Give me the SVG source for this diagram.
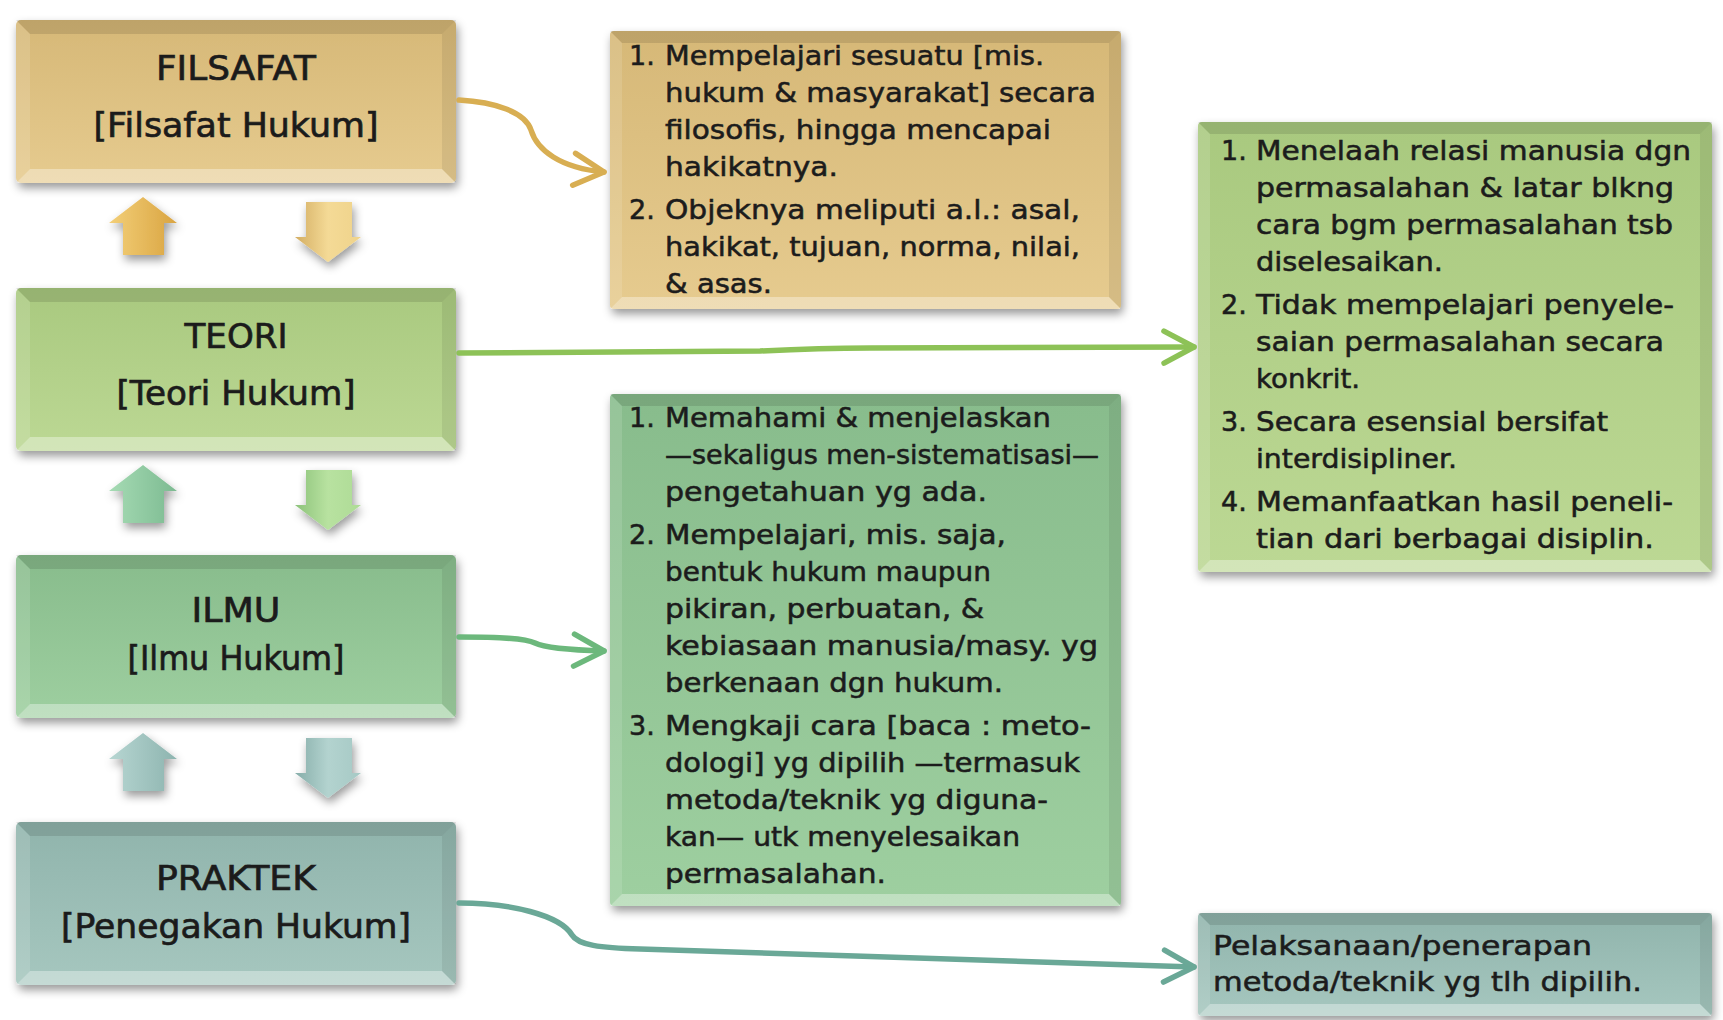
<svg xmlns="http://www.w3.org/2000/svg" xmlns:xlink="http://www.w3.org/1999/xlink" width="1723" height="1020" viewBox="0 0 1723 1020">
<style>
.t{font-family:"DejaVu Sans","Liberation Sans",sans-serif;font-size:34px;fill:#1b1b1b;stroke:#1b1b1b;stroke-width:0.7px;text-anchor:middle}
.d{font-family:"DejaVu Sans","Liberation Sans",sans-serif;font-size:27px;fill:#1c1c1c;stroke:#1c1c1c;stroke-width:0.55px}
.bt{fill:#000;fill-opacity:.11}
.bb{fill:#fff;fill-opacity:.35}
.bl{fill:#fff;fill-opacity:.12}
.br{fill:#000;fill-opacity:.07}
.con{fill:none;stroke-width:5.5;stroke-linecap:round;stroke-linejoin:round}
.chev{fill:none;stroke-width:5.5;stroke-linecap:round;stroke-linejoin:round}
</style>
<defs>
<filter id="sh" x="-10%" y="-10%" width="125%" height="130%">
<feDropShadow dx="2" dy="5" stdDeviation="5" flood-color="#000" flood-opacity="0.4"/>
</filter>
<linearGradient id="gGold" x1="0" y1="0" x2="0" y2="1"><stop offset="0" stop-color="#d6b877"/><stop offset="1" stop-color="#e6cb8f"/></linearGradient>
<linearGradient id="gTeori" x1="0" y1="0" x2="0" y2="1"><stop offset="0" stop-color="#a9c97f"/><stop offset="1" stop-color="#bcd894"/></linearGradient>
<linearGradient id="gIlmu" x1="0" y1="0" x2="0" y2="1"><stop offset="0" stop-color="#88bc8c"/><stop offset="1" stop-color="#9ecfa0"/></linearGradient>
<linearGradient id="gPrak" x1="0" y1="0" x2="0" y2="1"><stop offset="0" stop-color="#90b4ac"/><stop offset="1" stop-color="#a6c7bf"/></linearGradient>
<linearGradient id="gUp1" x1="0" y1="0" x2="1" y2="0"><stop offset="0" stop-color="#f3cf78"/><stop offset="1" stop-color="#d9a441"/></linearGradient>
<linearGradient id="gDn1" x1="0" y1="0" x2="1" y2="0"><stop offset="0" stop-color="#d3ad62"/><stop offset="0.5" stop-color="#f4da96"/><stop offset="1" stop-color="#efd38b"/></linearGradient>
<linearGradient id="gUp2" x1="0" y1="0" x2="1" y2="0"><stop offset="0" stop-color="#a6dbb4"/><stop offset="1" stop-color="#7cba91"/></linearGradient>
<linearGradient id="gDn2" x1="0" y1="0" x2="1" y2="0"><stop offset="0" stop-color="#8cc27a"/><stop offset="0.5" stop-color="#b8e2a0"/><stop offset="1" stop-color="#aedb96"/></linearGradient>
<linearGradient id="gUp3" x1="0" y1="0" x2="1" y2="0"><stop offset="0" stop-color="#b7d6d2"/><stop offset="1" stop-color="#8db4af"/></linearGradient>
<linearGradient id="gDn3" x1="0" y1="0" x2="1" y2="0"><stop offset="0" stop-color="#86ada9"/><stop offset="0.5" stop-color="#b3d3cf"/><stop offset="1" stop-color="#a6c9c5"/></linearGradient>
<g id="bevL">
<polygon class="bt" points="0,0 440,0 426,14 14,14"/>
<polygon class="bb" points="0,163 440,163 426,149 14,149"/>
<polygon class="bl" points="0,0 14,14 14,149 0,163"/>
<polygon class="br" points="440,0 426,14 426,149 440,163"/>
</g>
<path id="upA" d="M143,197 L177,223 L164,223 L164,255 L123,255 L123,223 L109,223 Z"/>
<path id="dnA" d="M306,202 L352,202 L352,237 L361,237 L328,262 L295,237 L306,237 Z"/>
<marker id="mkGold" markerUnits="userSpaceOnUse" markerWidth="46" markerHeight="46" viewBox="0 0 46 46" refX="38" refY="23" orient="auto"><path class="chev" stroke="#d8ae52" d="M8,7 L38,23 L8,39"/></marker>
<marker id="mkTeori" markerUnits="userSpaceOnUse" markerWidth="46" markerHeight="46" viewBox="0 0 46 46" refX="38" refY="23" orient="auto"><path class="chev" stroke="#8dc257" d="M8,7 L38,23 L8,39"/></marker>
<marker id="mkIlmu" markerUnits="userSpaceOnUse" markerWidth="46" markerHeight="46" viewBox="0 0 46 46" refX="38" refY="23" orient="auto"><path class="chev" stroke="#6cb87c" d="M8,7 L38,23 L8,39"/></marker>
<marker id="mkPrak" markerUnits="userSpaceOnUse" markerWidth="46" markerHeight="46" viewBox="0 0 46 46" refX="38" refY="23" orient="auto"><path class="chev" stroke="#6aa897" d="M8,7 L38,23 L8,39"/></marker>
</defs>
<rect width="1723" height="1020" fill="#ffffff"/>

<g id="filsafat">
<rect x="16" y="20" width="440" height="163" rx="5" fill="url(#gGold)" filter="url(#sh)"/>
<use href="#bevL" x="16" y="20"/>
<text class="t" x="236" y="80" textLength="160" lengthAdjust="spacingAndGlyphs">FILSAFAT</text>
<text class="t" x="236" y="137" textLength="285" lengthAdjust="spacingAndGlyphs">[Filsafat Hukum]</text>
</g>
<g id="teori">
<rect x="16" y="288" width="440" height="163" rx="5" fill="url(#gTeori)" filter="url(#sh)"/>
<use href="#bevL" x="16" y="288"/>
<text class="t" x="236" y="348" textLength="103" lengthAdjust="spacingAndGlyphs">TEORI</text>
<text class="t" x="236" y="405" textLength="239" lengthAdjust="spacingAndGlyphs">[Teori Hukum]</text>
</g>
<g id="ilmu">
<rect x="16" y="555" width="440" height="163" rx="5" fill="url(#gIlmu)" filter="url(#sh)"/>
<use href="#bevL" x="16" y="555"/>
<text class="t" x="236" y="622" textLength="89" lengthAdjust="spacingAndGlyphs">ILMU</text>
<text class="t" x="236" y="670" textLength="217" lengthAdjust="spacingAndGlyphs">[Ilmu Hukum]</text>
</g>
<g id="praktek">
<rect x="16" y="822" width="440" height="163" rx="5" fill="url(#gPrak)" filter="url(#sh)"/>
<use href="#bevL" x="16" y="822"/>
<text class="t" x="236" y="890" textLength="160" lengthAdjust="spacingAndGlyphs">PRAKTEK</text>
<text class="t" x="236" y="938" textLength="350" lengthAdjust="spacingAndGlyphs">[Penegakan Hukum]</text>
</g>

<g id="arrows-filsafat-teori" filter="url(#sh)">
<use href="#upA" fill="url(#gUp1)"/>
<use href="#dnA" fill="url(#gDn1)"/>
</g>
<g id="arrows-teori-ilmu" filter="url(#sh)">
<use href="#upA" y="268" fill="url(#gUp2)"/>
<use href="#dnA" y="268" fill="url(#gDn2)"/>
</g>
<g id="arrows-ilmu-praktek" filter="url(#sh)">
<use href="#upA" y="536" fill="url(#gUp3)"/>
<use href="#dnA" y="536" fill="url(#gDn3)"/>
</g>

<g id="desc-filsafat">
<rect x="610" y="31" width="511" height="278" rx="4" fill="url(#gGold)" filter="url(#sh)"/>
<polygon class="bt" points="610,31 1121,31 1109,43 622,43"/>
<polygon class="bb" points="610,309 1121,309 1109,297 622,297"/>
<polygon class="bl" points="610,31 622,43 622,297 610,309"/>
<polygon class="br" points="1121,31 1109,43 1109,297 1121,309"/>
<text class="d" x="629" y="65">1.</text>
<text class="d" x="665" y="65" textLength="379" lengthAdjust="spacingAndGlyphs">Mempelajari sesuatu [mis.</text>
<text class="d" x="665" y="102" textLength="431" lengthAdjust="spacingAndGlyphs">hukum &amp; masyarakat] secara</text>
<text class="d" x="665" y="139" textLength="386" lengthAdjust="spacingAndGlyphs">filosofis, hingga mencapai</text>
<text class="d" x="665" y="176" textLength="173" lengthAdjust="spacingAndGlyphs">hakikatnya.</text>
<text class="d" x="629" y="219">2.</text>
<text class="d" x="665" y="219" textLength="415" lengthAdjust="spacingAndGlyphs">Objeknya meliputi a.l.: asal,</text>
<text class="d" x="665" y="256" textLength="415" lengthAdjust="spacingAndGlyphs">hakikat, tujuan, norma, nilai,</text>
<text class="d" x="665" y="293" textLength="107" lengthAdjust="spacingAndGlyphs">&amp; asas.</text>
</g>

<g id="desc-teori">
<rect x="1198" y="122" width="514" height="450" rx="4" fill="url(#gTeori)" filter="url(#sh)"/>
<polygon class="bt" points="1198,122 1712,122 1700,134 1210,134"/>
<polygon class="bb" points="1198,572 1712,572 1700,560 1210,560"/>
<polygon class="bl" points="1198,122 1210,134 1210,560 1198,572"/>
<polygon class="br" points="1712,122 1700,134 1700,560 1712,572"/>
<text class="d" x="1221" y="160">1.</text>
<text class="d" x="1256" y="160" textLength="435" lengthAdjust="spacingAndGlyphs">Menelaah relasi manusia dgn</text>
<text class="d" x="1256" y="197" textLength="418" lengthAdjust="spacingAndGlyphs">permasalahan &amp; latar blkng</text>
<text class="d" x="1256" y="234" textLength="417" lengthAdjust="spacingAndGlyphs">cara bgm permasalahan tsb</text>
<text class="d" x="1256" y="271" textLength="187" lengthAdjust="spacingAndGlyphs">diselesaikan.</text>
<text class="d" x="1221" y="314">2.</text>
<text class="d" x="1256" y="314" textLength="418" lengthAdjust="spacingAndGlyphs">Tidak mempelajari penyele-</text>
<text class="d" x="1256" y="351" textLength="408" lengthAdjust="spacingAndGlyphs">saian permasalahan secara</text>
<text class="d" x="1256" y="388" textLength="104" lengthAdjust="spacingAndGlyphs">konkrit.</text>
<text class="d" x="1221" y="431">3.</text>
<text class="d" x="1256" y="431" textLength="352" lengthAdjust="spacingAndGlyphs">Secara esensial bersifat</text>
<text class="d" x="1256" y="468" textLength="201" lengthAdjust="spacingAndGlyphs">interdisipliner.</text>
<text class="d" x="1221" y="511">4.</text>
<text class="d" x="1256" y="511" textLength="417" lengthAdjust="spacingAndGlyphs">Memanfaatkan hasil peneli-</text>
<text class="d" x="1256" y="548" textLength="398" lengthAdjust="spacingAndGlyphs">tian dari berbagai disiplin.</text>
</g>

<g id="desc-ilmu">
<rect x="610" y="394" width="511" height="512" rx="4" fill="url(#gIlmu)" filter="url(#sh)"/>
<polygon class="bt" points="610,394 1121,394 1109,406 622,406"/>
<polygon class="bb" points="610,906 1121,906 1109,894 622,894"/>
<polygon class="bl" points="610,394 622,406 622,894 610,906"/>
<polygon class="br" points="1121,394 1109,406 1109,894 1121,906"/>
<text class="d" x="629" y="427">1.</text>
<text class="d" x="665" y="427" textLength="386" lengthAdjust="spacingAndGlyphs">Memahami &amp; menjelaskan</text>
<text class="d" x="665" y="464" textLength="434" lengthAdjust="spacingAndGlyphs">—sekaligus men-sistematisasi—</text>
<text class="d" x="665" y="501" textLength="322" lengthAdjust="spacingAndGlyphs">pengetahuan yg ada.</text>
<text class="d" x="629" y="544">2.</text>
<text class="d" x="665" y="544" textLength="341" lengthAdjust="spacingAndGlyphs">Mempelajari, mis. saja,</text>
<text class="d" x="665" y="581" textLength="326" lengthAdjust="spacingAndGlyphs">bentuk hukum maupun</text>
<text class="d" x="665" y="618" textLength="319" lengthAdjust="spacingAndGlyphs">pikiran, perbuatan, &amp;</text>
<text class="d" x="665" y="655" textLength="433" lengthAdjust="spacingAndGlyphs">kebiasaan manusia/masy. yg</text>
<text class="d" x="665" y="692" textLength="338" lengthAdjust="spacingAndGlyphs">berkenaan dgn hukum.</text>
<text class="d" x="629" y="735">3.</text>
<text class="d" x="665" y="735" textLength="426" lengthAdjust="spacingAndGlyphs">Mengkaji cara [baca : meto-</text>
<text class="d" x="665" y="772" textLength="415" lengthAdjust="spacingAndGlyphs">dologi] yg dipilih —termasuk</text>
<text class="d" x="665" y="809" textLength="383" lengthAdjust="spacingAndGlyphs">metoda/teknik yg diguna-</text>
<text class="d" x="665" y="846" textLength="355" lengthAdjust="spacingAndGlyphs">kan— utk menyelesaikan</text>
<text class="d" x="665" y="883" textLength="221" lengthAdjust="spacingAndGlyphs">permasalahan.</text>
</g>

<g id="desc-praktek">
<rect x="1198" y="913" width="514" height="103" rx="4" fill="url(#gPrak)" filter="url(#sh)"/>
<polygon class="bt" points="1198,913 1712,913 1700,925 1210,925"/>
<polygon class="bb" points="1198,1016 1712,1016 1700,1004 1210,1004"/>
<polygon class="bl" points="1198,913 1210,925 1210,1004 1198,1016"/>
<polygon class="br" points="1712,913 1700,925 1700,1004 1712,1016"/>
<text class="d" x="1213" y="955" textLength="379" lengthAdjust="spacingAndGlyphs">Pelaksanaan/penerapan</text>
<text class="d" x="1213" y="991" textLength="429" lengthAdjust="spacingAndGlyphs">metoda/teknik yg tlh dipilih.</text>
</g>

<g id="connectors">
<path class="con" stroke="#d8ae52" marker-end="url(#mkGold)" d="M459,100 C495,102 525,112 531,130 C537,150 560,168 604,172"/>
<path class="con" stroke="#8dc257" marker-end="url(#mkTeori)" d="M459,353 L760,351 C800,349 830,348 870,348 L1194,347"/>
<path class="con" stroke="#6cb87c" marker-end="url(#mkIlmu)" d="M459,637 C500,637 525,638 535,643 C545,648 570,650 604,651"/>
<path class="con" stroke="#6aa897" marker-end="url(#mkPrak)" d="M459,903 C510,903 560,915 572,935 C578,945 600,948 640,949 L1194,967"/>
</g>
</svg>
